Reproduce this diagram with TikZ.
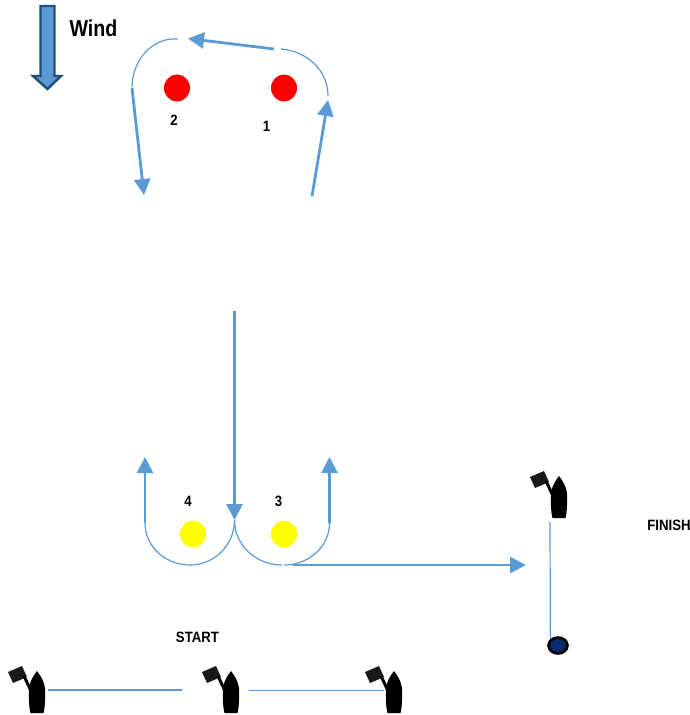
\documentclass[tikz,border=0pt]{standalone}
\usepackage{fontspec}
\setmainfont{Liberation Sans}
\usepackage{xcolor}
\usetikzlibrary{arrows.meta, shapes.geometric}
\definecolor{course}{HTML}{5B9BD5}
\definecolor{windedge}{HTML}{1F4E79}
\definecolor{buoyfill}{HTML}{0B2A6B}
\definecolor{markred}{HTML}{FF0000}
\definecolor{markyellow}{HTML}{FFFF00}
\tikzset{
	legline/.style={-{Triangle[width=16pt,length=16pt]}, line width=2.8pt, course},
	roundline/.style={line width=1.2pt, course},
	gateline/.style={line width=1.2pt, course},
	redmark/.style={ellipse, fill=markred, minimum width=26pt, minimum height=27pt, inner sep=0pt},
	yellowmark/.style={ellipse, fill=markyellow, minimum width=26pt, minimum height=27pt, inner sep=0pt},
	marktext/.style={font=\fontsize{15}{15}\selectfont\bfseries, xscale=.88, transform shape, inner sep=0pt},
	boat/.pic={
		\fill (-8,-24) .. controls (-7.5,-32) and (-3,-38) .. (0,-42)
			.. controls (3,-38) and (7.5,-32) .. (8,-24)
			.. controls (8.5,-12) and (7.5,-3) .. (6.5,0) -- (-6.5,0)
			.. controls (-7.5,-3) and (-8.5,-12) .. (-8,-24) -- cycle;
		\fill[black!90] (-29,-41) -- (-15,-47) -- (-10,-36) -- (-24,-30) -- cycle;
		\draw[line width=3pt] (-13,-37) -- (-5,-20);
	}
}

\begin{document}
\begin{tikzpicture}[x=1pt, y=-1pt]
	\useasboundingbox (0,0) rectangle (690,715);

	%% Wind
	\draw [line width=2.4pt, windedge, fill=course, line join=miter]
	(40.5,6) -- (54.5,6) -- (54.5,76) -- (61,76) -- (47.5,89) -- (33,76) -- (40.5,76) -- cycle;
	\node [marktext, font=\fontsize{23}{23}\selectfont\bfseries, xscale=.97] (windtext) at (93.5,28) {Wind};

	%% Marks
	\node [redmark] (markA) at (284,88) {};
	\node [redmark] (markB) at (177,88) {};
	\node [yellowmark] (markC) at (284,534) {};
	\node [yellowmark] (markD) at (193,534) {};

	\node [marktext] (textA) at (266.5,126) {1};
	\node [marktext] (textB) at (174,120) {2};
	\node [marktext] (textC) at (278.5,501) {3};
	\node [marktext] (textD) at (188,501) {4};
	\node [marktext] (starttext) at (197.5,637) {START};
	\node [marktext] (finishtext) at (669,525) {FINISH};

	%% Points of the course
	\coordinate (upA) at (312,196);
	\coordinate (upB) at (328,100);
	\coordinate (roundAin) at (328,96);
	\coordinate (roundAout) at (281,49);
	\coordinate (reachA) at (274,49);
	\coordinate (reachB) at (188,38.5);
	\coordinate (roundBin) at (178,39);
	\coordinate (roundBout) at (132,87);
	\coordinate (downA) at (132,88);
	\coordinate (downB) at (144,195);
	\coordinate (runA) at (234.5,311);
	\coordinate (runB) at (234.5,520);
	\coordinate (leftA) at (145,523);
	\coordinate (leftB) at (145,457);
	\coordinate (leftlow) at (190,565);
	\coordinate (rightA) at (329.5,523);
	\coordinate (rightB) at (329.5,457);
	\coordinate (rightlow) at (282,565);
	\coordinate (rightlowB) at (284,565);
	\coordinate (homeA) at (293,565);
	\coordinate (homeB) at (526,565);

	%% Legs
	\draw [legline] (upA)--(upB);
	\draw [legline] (reachA)--(reachB);
	\draw [legline] (downA)--(downB);
	\draw [legline] (runA)--(runB);
	\draw [legline] (leftA)--(leftB);
	\draw [legline] (rightA)--(rightB);
	\draw [legline] (homeA)--(homeB);

	%% Roundings
	\draw [roundline] (roundAout) to [out=-5, in=90] (roundAin);
	\draw [roundline] (roundBin) to [out=175, in=90] (roundBout);
	\draw [roundline] (leftA) to [out=-90, in=180] (leftlow);
	\draw [roundline] (leftlow) to [out=0, in=-90] (runB);
	\draw [roundline] (runB) to [out=-90, in=180] (rightlow);
	\draw [roundline] (rightlowB) to [out=0, in=-90] (rightA);

	%% Start and finish
	\coordinate (boatA) at (37,713);
	\coordinate (boatB) at (231,713);
	\coordinate (boatC) at (394,713);
	\coordinate (boatD) at (559,518);
	\foreach \b in {boatA, boatB, boatC, boatD}
		\pic at (\b) {boat};

	\node [ellipse, draw, line width=2.6pt, fill=buoyfill, minimum width=19pt, minimum height=16pt, inner sep=0pt] (buoy) at (558,645.5) {};

	\coordinate (startA) at (48,690);
	\coordinate (startB) at (182,690);
	\coordinate (startC) at (249,690.5);
	\coordinate (startD) at (384,690.5);
	\coordinate (finishA) at (550,522);
	\draw [gateline] (startA)--(startB);
	\draw [gateline] (startC)--(startD);
	\draw [gateline] (finishA)--(buoy.north west);
\end{tikzpicture}
\end{document}
